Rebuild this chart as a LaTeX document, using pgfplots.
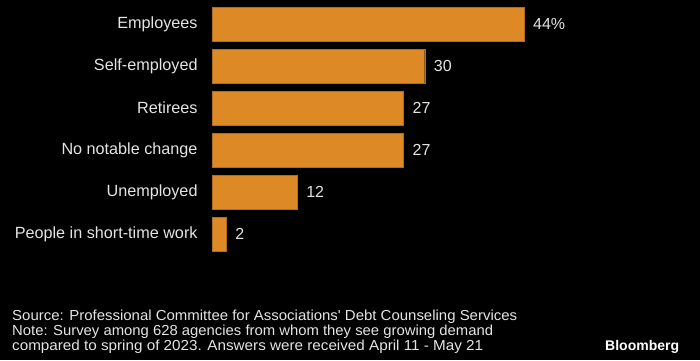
\documentclass[border=0pt]{standalone}
\usepackage{pgfplots}
\pgfplotsset{compat=1.18}
\usepackage{fontspec}
\setmainfont{Liberation Sans}
\usepackage{graphicx}
\definecolor{barc}{RGB}{221,137,38}
\definecolor{txt}{RGB}{228,228,228}
\begin{document}
\begin{tikzpicture}[x=1pt,y=1pt]
\fill[black] (0,0) rectangle (700,360);
\begin{axis}[
  at={(212pt,105pt)}, anchor=south west,
  scale only axis, width=354.5pt, height=252pt,
  xmin=0, xmax=50, ymin=-0.5, ymax=5.5, y dir=reverse,
  xbar, bar width=34pt, bar shift=0pt,
  hide x axis,
  y axis line style={draw=none},
  ytick={0,1,2,3,4,5},
  yticklabels={Employees,Self-employed,Retirees,No notable change,Unemployed,People in short-time work},
  ytick style={draw=none},
  yticklabel style={text=txt, font=\fontsize{16.2}{16}\selectfont, inner sep=0pt, xshift=-10pt},
  point meta=explicit symbolic,
  nodes near coords,
  nodes near coords style={text=txt, font=\fontsize{16}{16}\selectfont, anchor=west, inner sep=0pt, xshift=9pt},
  clip=false,
]
\addplot[fill=barc, draw=barc!80!black, line width=0.4pt] coordinates {
  (44,0) [44\%]
  (30,1) [30]
  (27,2) [27]
  (27,3) [27]
  (12,4) [12]
  (2,5) [2]
};
\end{axis}
\node[anchor=base west, text=txt, inner sep=0pt, font=\fontsize{14.5}{14}\selectfont] at (12,40) {\resizebox{505pt}{\height}{Source: Professional Committee for Associations\textquotesingle{} Debt Counseling Services}};
\node[anchor=base west, text=txt, inner sep=0pt, font=\fontsize{14.5}{14}\selectfont] at (12,25) {\resizebox{481pt}{\height}{Note: Survey among 628 agencies from whom they see growing demand}};
\node[anchor=base west, text=txt, inner sep=0pt, font=\fontsize{14.5}{14}\selectfont] at (12,10) {\resizebox{471pt}{\height}{compared to spring of 2023. Answers were received April 11 - May 21}};
\node[anchor=base west, text=white, inner sep=0pt, font=\bfseries\fontsize{14}{14}\selectfont] at (605,10) {Bloomberg};
\end{tikzpicture}
\end{document}
